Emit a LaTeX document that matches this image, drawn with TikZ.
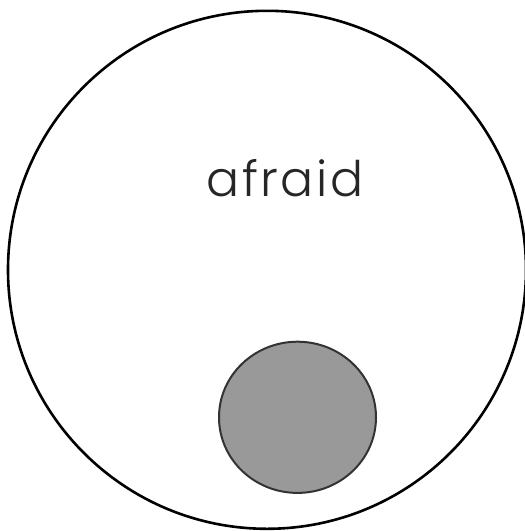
\documentclass[tikz,border=0pt]{standalone}
\usepackage{fontspec}
\setmainfont{Poppins}[UprightFont={* Light}]
\begin{document}
\begin{tikzpicture}[x=1pt,y=-1pt,
  outer/.style={draw=black,line width=2.6pt,fill=white},
  inner/.style={draw=black!80,line width=2pt,fill=black!40},
  label/.style={font=\fontsize{49}{55}\selectfont\addfontfeature{LetterSpace=5},text=black!85,anchor=base}]
\useasboundingbox (0,0) rectangle (525,531);
\fill[white] (0,0) rectangle (525,531);
\draw[outer] (267,269.8) circle[radius=259];
\draw[inner] (297.5,417.3) ellipse[x radius=78.5,y radius=75.6];
\node[label] (t) at (285,196) {afraid};
\end{tikzpicture}
\end{document}
